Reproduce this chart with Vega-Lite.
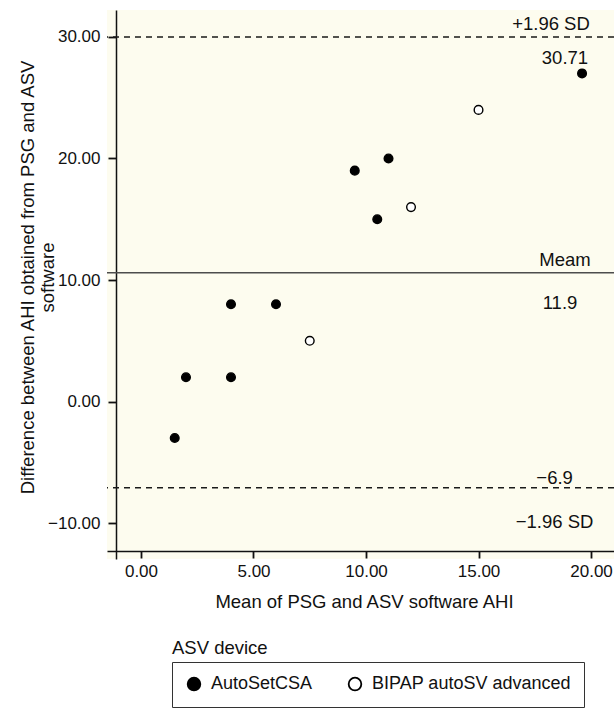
{
  "$schema": "https://vega.github.io/schema/vega-lite/v6.json",
  "autosize": {"type": "none"},
  "padding": {"left": 107, "top": 10, "right": 0, "bottom": 149},
  "width": 507,
  "height": 549,
  "title": {
    "text": "ASV device",
    "orient": "top",
    "anchor": "start",
    "frame": "group",
    "dx": 65,
    "dy": 662,
    "offset": 0,
    "baseline": "alphabetic",
    "font": "Liberation Sans",
    "fontSize": 18.5,
    "fontWeight": "normal",
    "color": "#111111"
  },
  "config": {
    "view": {"fill": "#fdfcef", "stroke": null},
    "axis": {
      "grid": false,
      "domainColor": "#111111",
      "domainWidth": 1.5,
      "tickColor": "#111111",
      "tickWidth": 1.8,
      "labelFont": "Liberation Sans",
      "labelFontSize": 17,
      "labelColor": "#111111",
      "titleFont": "Liberation Sans",
      "titleFontSize": 18.5,
      "titleFontWeight": "normal",
      "titleColor": "#111111"
    }
  },
  "datasets": {
    "points": [
      {"x": 1.5, "y": -3, "device": "AutoSetCSA"},
      {"x": 2, "y": 2, "device": "AutoSetCSA"},
      {"x": 4, "y": 2, "device": "AutoSetCSA"},
      {"x": 4, "y": 8, "device": "AutoSetCSA"},
      {"x": 6, "y": 8, "device": "AutoSetCSA"},
      {"x": 7.5, "y": 5, "device": "BIPAP autoSV advanced"},
      {"x": 9.5, "y": 19, "device": "AutoSetCSA"},
      {"x": 10.5, "y": 15, "device": "AutoSetCSA"},
      {"x": 11, "y": 20, "device": "AutoSetCSA"},
      {"x": 12, "y": 16, "device": "BIPAP autoSV advanced"},
      {"x": 15, "y": 24, "device": "BIPAP autoSV advanced"},
      {"x": 19.6, "y": 27, "device": "AutoSetCSA"}
    ],
    "lines": [
      {"y": 30, "kind": "sd"},
      {"y": 10.6, "kind": "mean"},
      {"y": -7.1, "kind": "sd"}
    ],
    "labels": [
      {"x": 18.22, "y": 31.07, "text": "+1.96 SD"},
      {"x": 18.84, "y": 28.27, "text": "30.71"},
      {"x": 18.84, "y": 11.65, "text": "Meam"},
      {"x": 18.62, "y": 8.11, "text": "11.9"},
      {"x": 18.38, "y": -6.3, "text": "−6.9"},
      {"x": 18.38, "y": -9.92, "text": "−1.96 SD"}
    ]
  },
  "layer": [
    {
      "data": {"name": "lines"},
      "mark": {"type": "rule"},
      "encoding": {
        "y": {"field": "y", "type": "quantitative", "scale": {"domain": [-12.96, 32.22], "nice": false, "zero": false}},
        "strokeDash": {"field": "kind", "type": "nominal", "scale": {"domain": ["sd", "mean"], "range": [[6, 5], [1, 0]]}, "legend": null},
        "color": {"field": "kind", "type": "nominal", "scale": {"domain": ["sd", "mean"], "range": ["#1a1a1a", "#4d4d4d"]}, "legend": null},
        "strokeWidth": {"field": "kind", "type": "nominal", "scale": {"domain": ["sd", "mean"], "range": [1.4, 1.6]}, "legend": null}
      }
    },
    {
      "data": {"name": "points"},
      "mark": {"type": "point", "shape": "circle", "filled": true, "stroke": "#000000", "strokeWidth": 1.4, "size": 75, "opacity": 1},
      "encoding": {
        "x": {
          "field": "x", "type": "quantitative",
          "scale": {"domain": [-1.51, 21.02], "nice": false, "zero": false},
          "axis": {
            "title": "Mean of PSG and ASV software AHI",
            "values": [0, 5, 10, 15, 20],
            "format": ".2f",
            "offset": -8,
            "tickSize": 7,
            "labelPadding": 5,
            "titleX": 257,
            "titleY": 56,
            "titleBaseline": "alphabetic"
          }
        },
        "y": {
          "field": "y", "type": "quantitative",
          "scale": {"domain": [-12.96, 32.22], "nice": false, "zero": false},
          "axis": {
            "title": ["Difference between AHI obtained from PSG and ASV", "software"],
            "values": [-10, 0, 10, 20, 30],
            "format": ".2f",
            "offset": -9,
            "tickSize": 8,
            "labelPadding": 8,
            "titleX": -83,
            "titleY": 267,
            "titleAlign": "center",
            "titleBaseline": "alphabetic",
            "titleLineHeight": 20
          }
        },
        "fill": {
          "field": "device", "type": "nominal",
          "scale": {"domain": ["AutoSetCSA", "BIPAP autoSV advanced"], "range": ["#000000", "#ffffff"]},
          "legend": {
            "title": null,
            "orient": "none",
            "legendX": 65,
            "legendY": 652,
            "direction": "horizontal",
            "strokeColor": "#333333",
            "padding": 13,
            "symbolType": "circle",
            "symbolSize": 160,
            "symbolStrokeColor": "#000000",
            "symbolStrokeWidth": 1.8,
            "labelFont": "Liberation Sans",
            "labelFontSize": 18,
            "labelColor": "#111111",
            "labelOffset": 8,
            "labelLimit": 400,
            "columnPadding": 32
          }
        }
      }
    },
    {
      "data": {"name": "labels"},
      "mark": {"type": "text", "font": "Liberation Sans", "fontSize": 18.5, "color": "#111111", "align": "center", "baseline": "middle"},
      "encoding": {
        "x": {"field": "x", "type": "quantitative", "scale": {"domain": [-1.51, 21.02], "nice": false, "zero": false}},
        "y": {"field": "y", "type": "quantitative", "scale": {"domain": [-12.96, 32.22], "nice": false, "zero": false}},
        "text": {"field": "text"}
      }
    }
  ]
}
